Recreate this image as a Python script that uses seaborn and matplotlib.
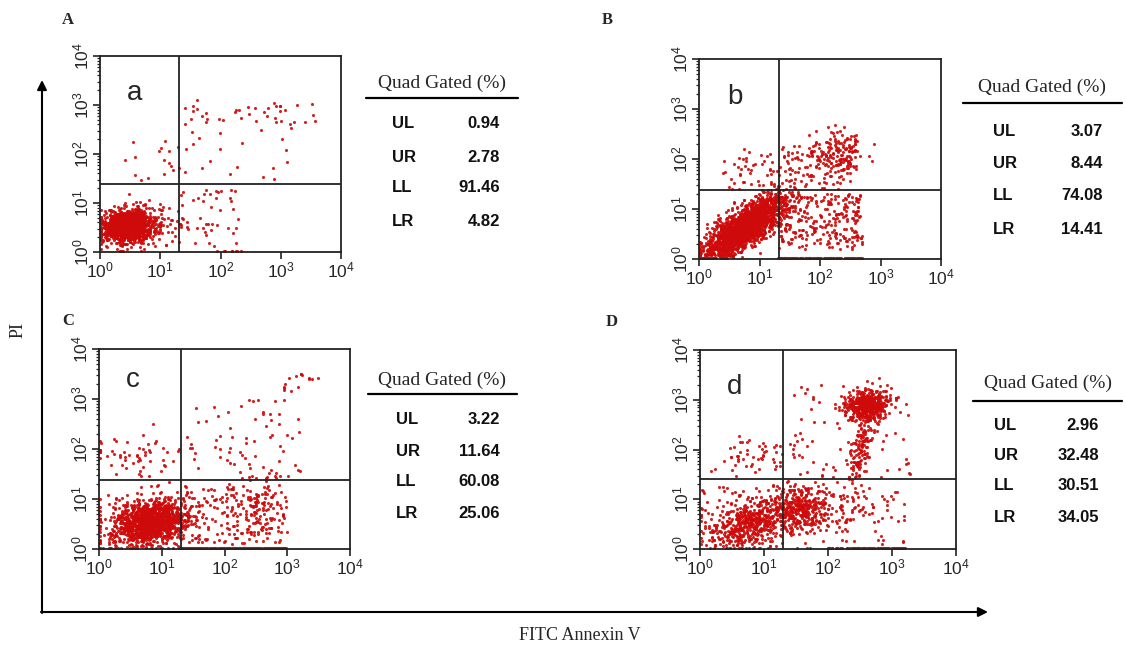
import numpy as np
import pandas as pd
import seaborn as sns
import matplotlib.pyplot as plt

# quadrant statistics printed next to each dot plot
quad_names = ['UL', 'UR', 'LL', 'LR']
quad_a = [0.94, 2.78, 91.46, 4.82]
quad_b = [3.07, 8.44, 74.08, 14.41]
quad_c = [3.22, 11.64, 60.08, 25.06]
quad_d = [2.96, 32.48, 30.51, 34.05]

panel_tags = ['A', 'B', 'C', 'D']
panel_letters = ['a', 'b', 'c', 'd']

# quadrant gate positions (log10 of FITC, log10 of PI)
gate_x = [1.31, 1.32, 1.31, 1.29]
gate_y = [1.39, 1.38, 1.39, 1.40]

# event populations, estimated from the dot plots (log10 units)
# clusters: (centre x, centre y, spread x, spread y, correlation, events)
clusters_a = [(0.45, 0.55, 0.18, 0.14, 0.1, 1200),
              (0.55, 0.50, 0.33, 0.22, 0.1, 350)]
clusters_b = [(0.65, 0.55, 0.30, 0.30, 0.75, 1500),
              (1.00, 0.85, 0.30, 0.28, 0.6, 400),
              (2.25, 2.15, 0.25, 0.22, 0.2, 150)]
clusters_c = [(0.85, 0.55, 0.26, 0.21, 0.2, 1000),
              (0.70, 0.50, 0.40, 0.30, 0.1, 350),
              (0.55, 1.90, 0.35, 0.18, 0.0, 55),
              (2.55, 0.75, 0.18, 0.32, 0.0, 110)]
clusters_d = [(0.75, 0.50, 0.30, 0.25, 0.3, 450),
              (1.50, 0.80, 0.22, 0.22, 0.0, 300),
              (2.05, 0.75, 0.40, 0.35, 0.1, 150),
              (2.60, 2.90, 0.17, 0.15, 0.2, 480),
              (2.50, 2.10, 0.10, 0.40, 0.6, 130),
              (0.85, 1.90, 0.35, 0.20, 0.0, 55)]
# sparse scatter: (x from, x to, y from, y to, events)
boxes_a = [(1.4, 3.7, 2.6, 3.1, 40), (1.3, 3.2, 1.4, 2.6, 22),
           (1.3, 2.3, 0.1, 1.3, 45), (0.4, 1.3, 1.4, 2.3, 15)]
boxes_b = [(1.3, 2.7, 0.2, 1.3, 260), (1.3, 2.6, 1.4, 2.3, 90),
           (0.4, 1.3, 1.4, 2.2, 45)]
boxes_c = [(1.4, 3.2, 1.4, 3.0, 70), (2.9, 3.6, 3.1, 3.6, 15),
           (1.3, 2.2, 0.1, 1.3, 80), (2.0, 3.0, 0.1, 1.3, 60)]
boxes_d = [(1.4, 3.3, 1.4, 3.3, 70), (2.6, 3.2, 0.1, 1.3, 25),
           (0.0, 1.3, 0.0, 1.3, 80)]
# events piled up on the lower axis: (x from, x to, events)
floor_a = [(1.8, 2.6, 8)]
floor_b = [(1.3, 2.7, 120)]
floor_c = [(1.3, 3.0, 170)]
floor_d = [(2.0, 3.2, 90)]


def make_events(clusters, boxes, floor, seed):
    rng = np.random.default_rng(seed)
    xs, ys = [], []
    for cx, cy, sx, sy, rho, n in clusters:
        cov = [[sx * sx, rho * sx * sy], [rho * sx * sy, sy * sy]]
        p = rng.multivariate_normal([cx, cy], cov, n)
        xs.append(p[:, 0])
        ys.append(p[:, 1])
    for x0, x1, y0, y1, n in boxes:
        xs.append(rng.uniform(x0, x1, n))
        ys.append(rng.uniform(y0, y1, n))
    for x0, x1, n in floor:
        xs.append(rng.uniform(x0, x1, n))
        ys.append(np.full(n, 0.015))
    x = np.clip(np.concatenate(xs), 0.015, 3.98)
    y = np.clip(np.concatenate(ys), 0.015, 3.98)
    return pd.DataFrame({'FITC': 10 ** x, 'PI': 10 ** y})


events = [make_events(clusters_a, boxes_a, floor_a, 1),
          make_events(clusters_b, boxes_b, floor_b, 2),
          make_events(clusters_c, boxes_c, floor_c, 3),
          make_events(clusters_d, boxes_d, floor_d, 4)]
quads = [quad_a, quad_b, quad_c, quad_d]

sns.set_theme(style='white')
plt.rcParams['font.family'] = ['Liberation Sans', 'DejaVu Sans']

W, H = 1126, 646
fig = plt.figure(figsize=(W / 100, H / 100), dpi=100)

# plot boxes in pixels: left, top, right, bottom
boxes_px = [(100, 56, 341, 252), (699, 59, 941, 259),
            (99, 349, 350, 549), (700, 350, 956, 549)]
# panel tag, lowercase letter and table anchor positions in pixels
tag_px = [(68, 20), (607, 20), (68, 321), (612, 322)]
letter_px = [(135, 93), (735, 97), (133, 380), (735, 387)]
table_px = [(366, 518, 83, 98, [124, 157, 188, 221], 392, 500),
            (963, 1122, 87, 103, [132, 163, 195, 229], 993, 1103),
            (368, 517, 380, 394, [420, 451, 482, 513], 396, 500),
            (973, 1122, 383, 401, [426, 456, 486, 517], 994, 1099)]

red = '#cf0a0a'
for i, df in enumerate(events):
    l, t, r, b = boxes_px[i]
    ax = fig.add_axes([l / W, 1 - b / H, (r - l) / W, (b - t) / H])
    sns.scatterplot(data=df, x='FITC', y='PI', ax=ax, s=5, color=red,
                    linewidth=0, alpha=0.9, legend=False)
    ax.set_xscale('log')
    ax.set_yscale('log')
    ax.set_xlim(1, 1e4)
    ax.set_ylim(1, 1e4)
    ax.axvline(10 ** gate_x[i], color='#222222', lw=1.3)
    ax.axhline(10 ** gate_y[i], color='#222222', lw=1.3)
    ax.set_xlabel('')
    ax.set_ylabel('')
    for sp in ax.spines.values():
        sp.set_color('#222222')
        sp.set_linewidth(1.3)
    ax.set_xticks([1, 10, 100, 1000, 10000])
    ax.set_yticks([1, 10, 100, 1000, 10000])
    ax.tick_params(which='major', direction='out', length=5, width=1.2,
                   labelsize=12.5, color='#222222', pad=1,
                   bottom=True, left=True)
    ax.tick_params(which='minor', direction='out', length=2.5, width=0.9,
                   color='#222222', bottom=True, left=True)
    for lab in ax.get_yticklabels():
        lab.set_rotation(90)
        lab.set_va('center')

# overlay in pixel coordinates for arrows, tables and labels
ov = fig.add_axes([0, 0, 1, 1], zorder=5)
ov.set_xlim(0, W)
ov.set_ylim(H, 0)
ov.axis('off')
ov.patch.set_alpha(0)

arrow = dict(arrowstyle='-|>', color='black', lw=1.5, mutation_scale=14,
             shrinkA=0, shrinkB=0)
ov.annotate('', xy=(42, 80), xytext=(42, 613), arrowprops=arrow)
ov.annotate('', xy=(988, 612), xytext=(41, 612), arrowprops=arrow)
ov.text(18, 330, 'PI', rotation=90, ha='center', va='center',
        family='Liberation Serif', fontsize=13)
ov.text(580, 635, 'FITC Annexin V', ha='center', va='center',
        family='Liberation Serif', fontsize=13)

for i in range(4):
    tx, ty = tag_px[i]
    ov.text(tx, ty, panel_tags[i], ha='center', va='center',
            family='Liberation Serif', fontweight='bold', fontsize=12)
    lx, ly = letter_px[i]
    ov.text(lx, ly, panel_letters[i], ha='center', va='center', fontsize=20)
    x0, x1, ty, uy, rows, lab_x, val_x = table_px[i]
    ov.text((x0 + x1) / 2, ty, 'Quad Gated (%)', ha='center', va='center',
            family='Liberation Serif', fontsize=14)
    ov.plot([x0, x1], [uy, uy], color='black', lw=1.6)
    for name, val, ry in zip(quad_names, quads[i], rows):
        ov.text(lab_x, ry, name, ha='left', va='center',
                fontweight='bold', fontsize=12, color='#111111')
        ov.text(val_x, ry, f'{val:.2f}', ha='right', va='center',
                fontweight='bold', fontsize=12, color='#111111')

fig.savefig('out.png', dpi=100, facecolor='white')
